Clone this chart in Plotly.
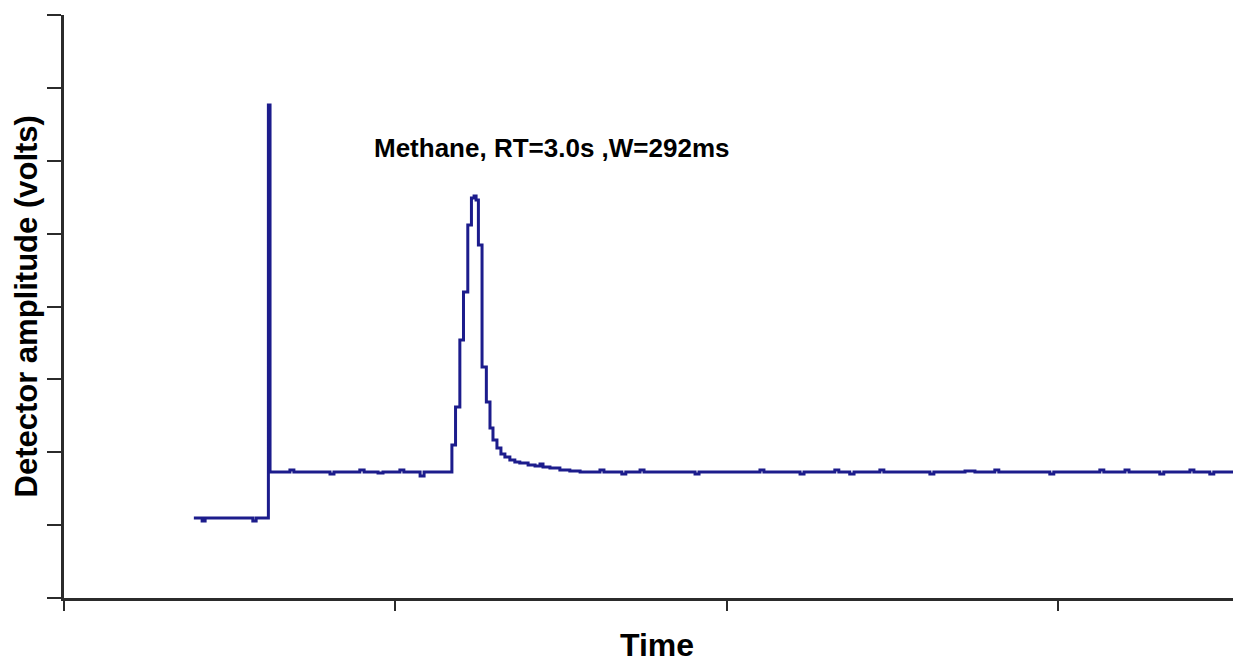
import plotly.graph_objects as go

# Time (arbitrary units, one major tick = 1) and detector amplitude (volts, one tick = 1)
time = [0.392, 0.417, 0.426, 0.561, 0.570, 0.580, 0.616, 0.617, 0.622,
        0.682, 0.694, 0.803, 0.815, 0.893, 0.906, 0.948, 0.963, 1.014, 1.026,
        1.075, 1.087, 1.135,
        1.171, 1.182, 1.195, 1.206, 1.219, 1.230, 1.238, 1.244, 1.251, 1.262,
        1.275, 1.286, 1.295, 1.307, 1.319, 1.331, 1.346, 1.361, 1.376, 1.401,
        1.422, 1.437, 1.446, 1.467, 1.497, 1.527, 1.558,
        1.618, 1.630, 1.684, 1.696, 1.739, 1.751, 1.905, 1.917, 2.101, 2.113,
        2.222, 2.234, 2.327, 2.339, 2.372, 2.385, 2.463, 2.475, 2.614, 2.626,
        2.720, 2.750, 2.810, 2.822, 2.976, 2.988, 3.127, 3.139, 3.203, 3.215,
        3.308, 3.320, 3.399, 3.411, 3.459, 3.471, 3.529]
amplitude = [1.098, 1.057, 1.098, 1.098, 1.057, 1.098, 1.098, 6.765, 1.729,
             1.756, 1.729, 1.702, 1.729, 1.756, 1.729, 1.715, 1.729, 1.756, 1.729,
             1.674, 1.729, 1.729,
             2.099, 2.621, 3.540, 4.199, 5.118, 5.489, 5.516, 5.461, 4.844, 3.170,
             2.690, 2.333, 2.168, 2.058, 1.976, 1.935, 1.894, 1.866, 1.852, 1.825,
             1.811, 1.839, 1.798, 1.784, 1.756, 1.743, 1.729,
             1.756, 1.729, 1.702, 1.729, 1.756, 1.729, 1.702, 1.729, 1.756, 1.729,
             1.702, 1.729, 1.756, 1.729, 1.702, 1.729, 1.756, 1.729, 1.702, 1.729,
             1.743, 1.729, 1.756, 1.729, 1.702, 1.729, 1.756, 1.729, 1.756, 1.729,
             1.702, 1.729, 1.756, 1.729, 1.702, 1.729, 1.729]

x_ticks = [0, 1, 2, 3]
y_ticks = [0, 1, 2, 3, 4, 5, 6, 7, 8]
peak_label = "Methane, RT=3.0s ,W=292ms"
peak_label_pos = (1.473, 6.175)

line_color = "#1c1c8c"
axis_color = "#2b2b2b"

fig = go.Figure()
fig.add_trace(go.Scatter(x=time, y=amplitude, mode="lines",
                         line=dict(color=line_color, width=3, shape="hv"),
                         showlegend=False, hoverinfo="skip"))

fig.update_layout(
    width=1233, height=662,
    margin=dict(l=64, r=0, t=15, b=64),
    paper_bgcolor="white", plot_bgcolor="white",
    font=dict(family="Liberation Sans, Arial, sans-serif", color="black"),
)
fig.update_xaxes(range=[0, 3.529], tickvals=x_ticks, ticktext=["" for _ in x_ticks],
                 showgrid=False, zeroline=False, showline=True, linecolor=axis_color,
                 linewidth=3, ticks="outside", ticklen=10, tickwidth=2, tickcolor=axis_color)
fig.update_yaxes(range=[0, 8], tickvals=y_ticks, ticktext=["" for _ in y_ticks],
                 showgrid=False, zeroline=False, showline=True, linecolor=axis_color,
                 linewidth=3, ticks="outside", ticklen=14, tickwidth=2, tickcolor=axis_color)

fig.add_annotation(x=peak_label_pos[0], y=peak_label_pos[1], xref="x", yref="y",
                   text="<b>" + peak_label + "</b>", showarrow=False,
                   font=dict(size=26, color="black"), xanchor="center", yanchor="middle")
fig.add_annotation(x=0, y=0.5, xref="paper", yref="paper", xshift=-38,
                   text="<b>Detector amplitude (volts)</b>", textangle=-90, showarrow=False,
                   font=dict(size=31, color="black"), xanchor="center", yanchor="middle")
fig.add_annotation(x=1.79, y=0, xref="x", yref="paper", yshift=-47,
                   text="<b>Time</b>", showarrow=False,
                   font=dict(size=32, color="black"), xanchor="center", yanchor="middle")

fig.write_html("out.html")
